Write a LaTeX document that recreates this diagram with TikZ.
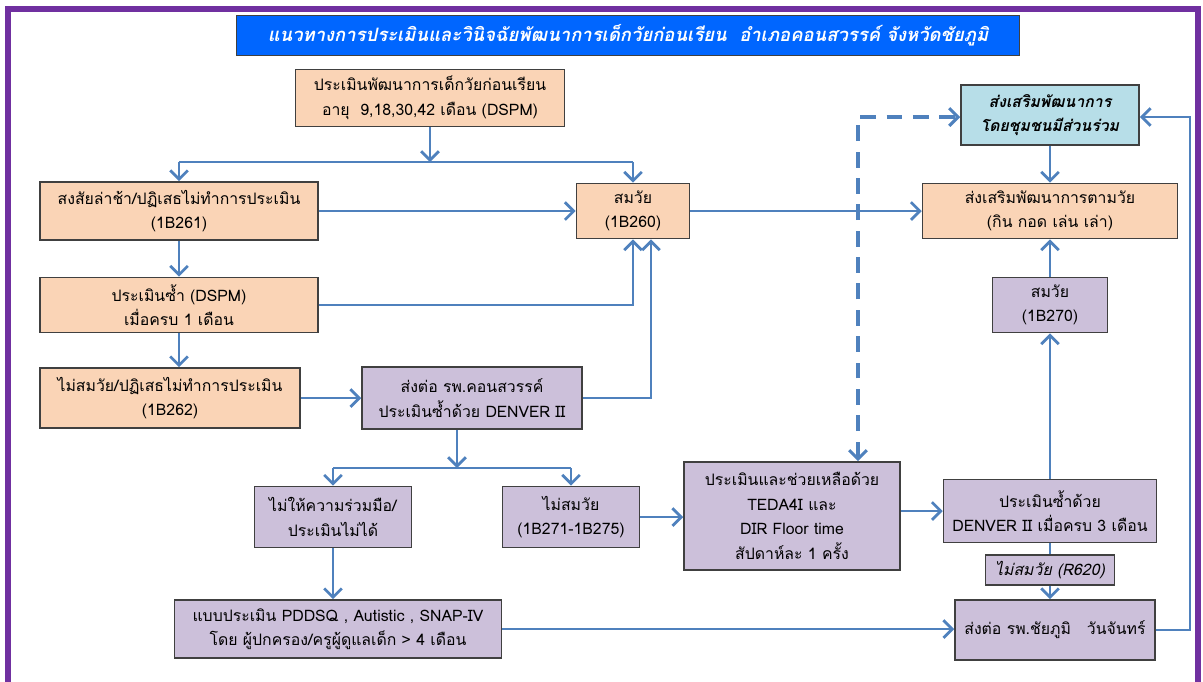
\documentclass[tikz,border=0pt]{standalone}
\usepackage{fontspec}
\setmainfont[Script=Thai]{Loma}
\usepackage{tikz}
\usetikzlibrary{arrows.meta,positioning}
\definecolor{purpleframe}{RGB}{112,48,160}
\definecolor{titleblue}{RGB}{0,102,255}
\definecolor{peach}{RGB}{250,212,182}
\definecolor{lilac}{RGB}{204,192,218}
\definecolor{skyblue}{RGB}{183,222,232}
\definecolor{flow}{RGB}{79,129,189}
\definecolor{edgegray}{RGB}{64,64,64}

\begin{document}
\begin{tikzpicture}[x=0.02cm,y=-0.02cm,
    box/.style={draw=edgegray,line width=0.9pt,align=center,inner sep=0pt,
      font=\fontsize{9}{14}\selectfont},
    peachbox/.style={box,fill=peach},
    lilacbox/.style={box,fill=lilac},
    go/.style={draw=flow,line width=1.6pt,-{Straight Barb[length=5pt,width=10pt]}},
    link/.style={draw=flow,line width=1.6pt},
    twoway/.style={draw=flow,line width=1.8pt,dash pattern=on 9pt off 6pt,
      {Straight Barb[length=5pt,width=10pt]}-{Straight Barb[length=5pt,width=10pt]}}]
  \useasboundingbox (0,0) rectangle (1203,681);
  \draw[purpleframe,line width=3pt] (8,690) -- (8,9) -- (1198,9) -- (1198,690);

  % title
  \node[draw=edgegray,fill=titleblue,minimum width=15.66cm,minimum height=0.8cm,
    text=white,font=\fontsize{10.5}{14}\selectfont\bfseries\itshape] (title) at (628,35)
    {แนวทางการประเมินและวินิจฉัยพัฒนาการเด็กวัยก่อนเรียน \ อำเภอคอนสวรรค์ จังหวัดชัยภูมิ};

  % left column
  \node[peachbox,minimum width=5.38cm,minimum height=1.14cm] (dspm) at (430,98)
    {ประเมินพัฒนาการเด็กวัยก่อนเรียน\\อายุ \ 9,18,30,42 เดือน (DSPM)};
  \node[peachbox,minimum width=5.56cm,minimum height=1.16cm] (delay) at (179,211)
    {สงสัยล่าช้า/ปฏิเสธไม่ทำการประเมิน\\(1B261)};
  \node[peachbox,minimum width=2.26cm,minimum height=1.1cm] (ok260) at (633,211)
    {สมวัย\\(1B260)};
  \node[peachbox,minimum width=5.56cm,minimum height=1.1cm] (redo) at (179,305)
    {ประเมินซ้ำ (DSPM)\\เมื่อครบ 1 เดือน};
  \node[peachbox,minimum width=5.2cm,minimum height=1.2cm] (notok262) at (170,398)
    {ไม่สมวัย/ปฏิเสธไม่ทำการประเมิน\\(1B262)};
  \node[lilacbox,minimum width=4.4cm,minimum height=1.24cm] (konsawan) at (472,398)
    {ส่งต่อ รพ.คอนสวรรค์\\ประเมินซ้ำด้วย DENVER II};
  \node[lilacbox,minimum width=3.14cm,minimum height=1.22cm] (nocoop) at (333,517)
    {ไม่ให้ความร่วมมือ/\\ประเมินไม่ได้};
  \node[lilacbox,minimum width=2.74cm,minimum height=1.22cm] (notok271) at (571,517)
    {ไม่สมวัย\\(1B271-1B275)};
  \node[lilacbox,minimum width=6.54cm,minimum height=1.16cm] (pddsq) at (338,629)
    {แบบประเมิน PDDSQ , Autistic , SNAP-IV\\โดย ผู้ปกครอง/ครูผู้ดูแลเด็ก > 4 เดือน};

  % right column
  \node[lilacbox,minimum width=4.32cm,minimum height=2.16cm] (teda) at (792,516)
    {ประเมินและช่วยเหลือด้วย\\TEDA4I และ\\DIR Floor time\\สัปดาห์ละ 1 ครั้ง};
  \node[lilacbox,minimum width=4.26cm,minimum height=1.26cm] (denver3) at (1050,511)
    {ประเมินซ้ำด้วย\\DENVER II เมื่อครบ 3 เดือน};
  \node[lilacbox,minimum width=2.58cm,minimum height=0.6cm,font=\fontsize{9}{14}\selectfont\itshape]
    (r620) at (1050,570) {ไม่สมวัย (R620)};
  \node[lilacbox,minimum width=4.0cm,minimum height=1.2cm] (chaiyaphum) at (1055,630)
    {ส่งต่อ รพ.ชัยภูมิ \ \ วันจันทร์};
  \node[lilacbox,minimum width=2.3cm,minimum height=1.1cm] (ok270) at (1050,305)
    {สมวัย\\(1B270)};
  \node[peachbox,minimum width=5.1cm,minimum height=1.1cm] (promote) at (1050,211)
    {ส่งเสริมพัฒนาการตามวัย\\(กิน กอด เล่น เล่า)};
  \node[box,fill=skyblue,minimum width=3.56cm,minimum height=1.2cm,
    font=\fontsize{9}{14}\selectfont\bfseries\itshape] (community) at (1050,115)
    {ส่งเสริมพัฒนาการ\\โดยชุมชนมีส่วนร่วม};

  % junctions
  \coordinate (split1) at (430,162);
  \coordinate (split2) at (457,468);
  \coordinate (dashtop) at (858,117);
  \coordinate (loopback) at (1190,117);

  % connectors
  \draw[go] (dspm.south) -- (split1);
  \draw[link] (delay.north |- split1) -- (ok260.north |- split1);
  \draw[go] (delay.north |- split1) -- (delay.north);
  \draw[go] (ok260.north |- split1) -- (ok260.north);
  \draw[go] (delay) -- (ok260);
  \draw[go] (delay) -- (redo);
  \draw[go] (redo.south) -- (redo.south |- notok262.north);
  \draw[go] (redo.east) -| (ok260.south);
  \draw[go] (notok262) -- (notok262 -| konsawan.west);
  \draw[go] (konsawan.east) -| ([xshift=0.36cm]ok260.south);
  \draw[go] (konsawan.south -| split2) -- (split2);
  \draw[link] (nocoop.north |- split2) -- (notok271.north |- split2);
  \draw[go] (nocoop.north |- split2) -- (nocoop.north);
  \draw[go] (notok271.north |- split2) -- (notok271.north);
  \draw[go] (notok271) -- (notok271 -| teda.west);
  \draw[go] (nocoop.south) -- (nocoop.south |- pddsq.north);
  \draw[go] (pddsq) -- (pddsq -| chaiyaphum.west);
  \draw[go] (teda.east |- denver3) -- (denver3.west);
  \draw[go] (denver3) -- (ok270);
  \draw[go] (ok270) -- (promote);
  \draw[link] (denver3) -- (r620);
  \draw[go] (r620.south) -- (r620.south |- chaiyaphum.north);
  \draw[go] (chaiyaphum.east) -| (loopback) -- (loopback -| community.east);
  \draw[go] (community) -- (promote);
  \draw[go] (ok260) -- (promote);
  \draw[twoway] (teda.north -| dashtop) -- (dashtop) -- (dashtop -| community.west);
\end{tikzpicture}
\end{document}
